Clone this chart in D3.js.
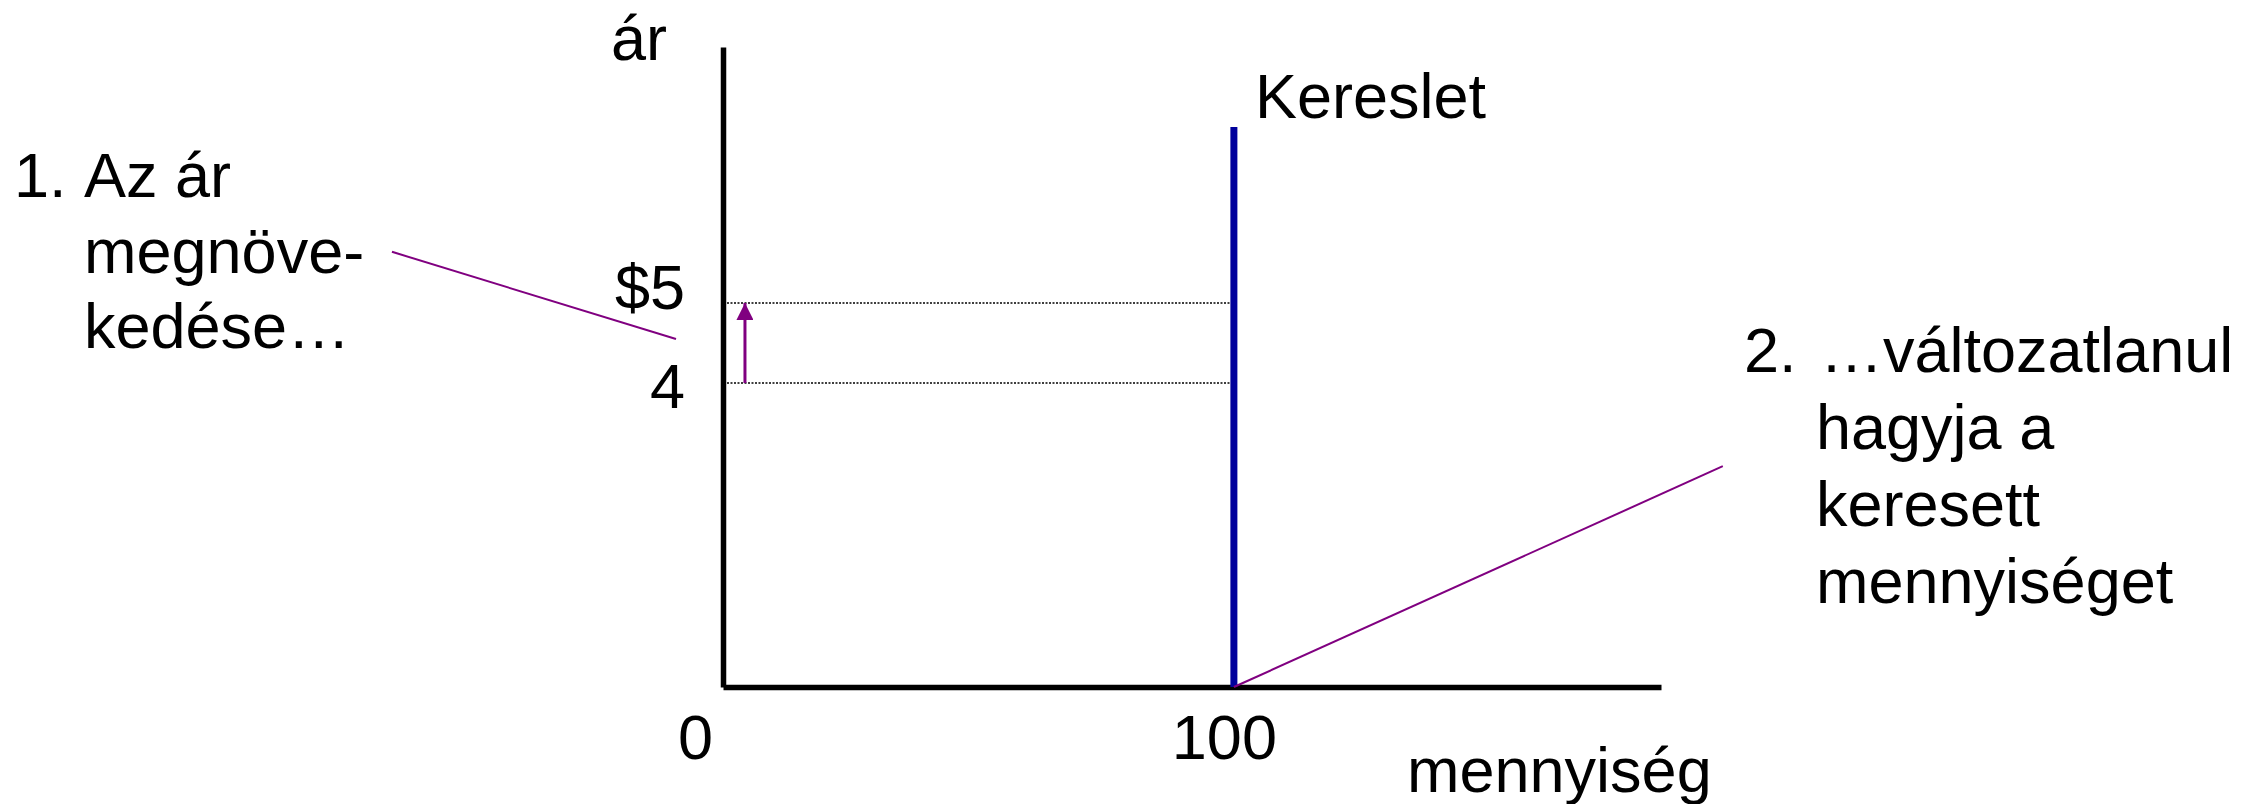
<!DOCTYPE html>
<html>
<head>
<meta charset="utf-8">
<script src="https://cdn.jsdelivr.net/npm/d3@7"></script>
<style>
  body { margin: 0; background: #fff; }
  text { font-family: "Liberation Sans", Arial, sans-serif; fill: #000; }
</style>
</head>
<body>
<svg id="chart" width="2255" height="804"></svg>
<script>
// data
const qtyTicks = [0, 100];
const qtyLabels = ["0", "100"];
const priceTicks = [5, 4];
const priceLabels = ["$5", "4"];
const demandQty = 100;
const demandTop = 7.2;
const priceOld = 4, priceNew = 5;
const arrowQty = 4.3;
const leftNote = ["Az ár", "megnöve-", "kedése…"];
const rightNote = ["…változatlanul", "hagyja a", "keresett", "mennyiséget"];
const leftLeader = [[-64.8, 5.64], [-9.2, 4.55]];
const rightLeader = [[100, 0.2], [195.7, 2.96]];

const svg = d3.select("#chart");
const fs = 63;

const x = d3.scaleLinear().domain([0, 183.6]).range([723, 1661]);
const y = d3.scaleLinear().domain([0.2, 8.2]).range([687, 47]);

svg.append("defs").append("marker")
    .attr("id", "head")
    .attr("viewBox", "0 0 10 10")
    .attr("refX", 10).attr("refY", 5)
    .attr("markerUnits", "userSpaceOnUse")
    .attr("markerWidth", 17).attr("markerHeight", 17)
    .attr("orient", "auto")
  .append("path")
    .attr("d", "M0,0L10,5L0,10Z")
    .attr("fill", "#800080");

// dotted price lines
svg.selectAll(".guide")
  .data(priceTicks)
  .join("line")
    .attr("class", "guide")
    .attr("x1", x(0) + 4).attr("x2", x(demandQty))
    .attr("y1", d => y(d)).attr("y2", d => y(d))
    .attr("stroke", "#000")
    .attr("stroke-width", 1.5)
    .attr("stroke-dasharray", "2,1.5");

// axes
const xAxis = svg.append("g")
    .attr("transform", `translate(0,${y(0.2)})`)
    .call(d3.axisBottom(x).tickValues(qtyTicks).tickSize(0).tickPadding(72)
      .tickFormat((d, i) => qtyLabels[i]));
xAxis.select(".domain").attr("stroke", "#000").attr("stroke-width", 5.5);
xAxis.selectAll(".tick text")
    .attr("font-size", fs).attr("font-family", null)
    .attr("dy", 0)
    .attr("dx", (d, i) => [-28, -10][i]);

const yAxis = svg.append("g")
    .attr("transform", `translate(${x(0)},0)`)
    .call(d3.axisLeft(y).tickValues(priceTicks).tickSize(0).tickPadding(38)
      .tickFormat((d, i) => priceLabels[i]));
yAxis.select(".domain").attr("stroke", "#000").attr("stroke-width", 5.5);
yAxis.selectAll(".tick text")
    .attr("font-size", fs).attr("font-family", null)
    .attr("dy", (d, i) => [5, 24][i]);

// demand
svg.append("line")
    .attr("x1", x(demandQty)).attr("x2", x(demandQty))
    .attr("y1", y(0.2)).attr("y2", y(demandTop))
    .attr("stroke", "#00009C")
    .attr("stroke-width", 7);

// price increase arrow
svg.append("line")
    .attr("x1", x(arrowQty)).attr("x2", x(arrowQty))
    .attr("y1", y(priceOld)).attr("y2", y(priceNew))
    .attr("stroke", "#800080")
    .attr("stroke-width", 3)
    .attr("marker-end", "url(#head)");

// leader lines
const line = d3.line().x(d => x(d[0])).y(d => y(d[1]));
[leftLeader, rightLeader].forEach(pts => {
  svg.append("path")
      .attr("d", line(pts))
      .attr("fill", "none")
      .attr("stroke", "#800080")
      .attr("stroke-width", 2);
});

// labels
const label = (t, px, py) => svg.append("text")
    .attr("x", px).attr("y", py).attr("font-size", fs).text(t);

label("ár", 611, 60);
label("Kereslet", 1255, 118);
label("mennyiség", 1407, 792);

label("1.", 14, 197);
leftNote.forEach((t, i) => label(t, 84, 197 + i * 75.5));

label("2.", 1744, 372);
rightNote.forEach((t, i) => label(t, i === 0 ? 1820 : 1816, 372 + i * 77));
</script>
</body>
</html>
